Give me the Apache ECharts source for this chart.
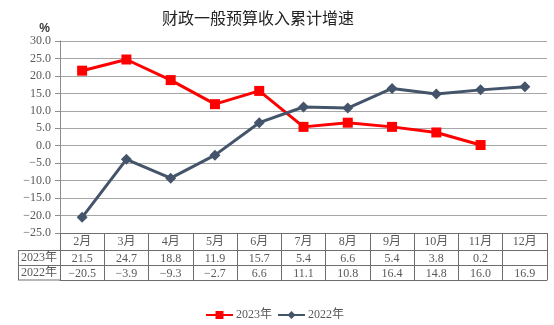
<!DOCTYPE html>
<html><head><meta charset="utf-8">
<script src="https://cdn.jsdelivr.net/npm/echarts@6/dist/echarts.min.js"></script>
<style>html,body{margin:0;padding:0;background:#fff}#c{width:554px;height:325px}</style>
</head><body><div id="c"></div>
<script>
var months = ['2月','3月','4月','5月','6月','7月','8月','9月','10月','11月','12月'];
var s2023 = [21.5, 24.7, 18.8, 11.9, 15.7, 5.4, 6.6, 5.4, 3.8, 0.2, null];
var s2022 = [-20.5, -3.9, -9.3, -2.7, 6.6, 11.1, 10.8, 16.4, 14.8, 16.0, 16.9];
var seriesNames = ['2023年', '2022年'];
var yTicks = {min: -25, max: 30, interval: 5};

function fmt(v){ if(v===null||v===undefined) return ''; var s=v.toFixed(1); return s.replace('-', '\u2212'); }

var serif = '"Liberation Serif","Noto Sans CJK SC",serif';
var txtColor = '#595959';
var border = '#6e6e6e';
var G = {left: 60, right: 7, top: 41, bottom: 92};
var rowH = [17.5, 15, 14.5];

var chart = echarts.init(document.getElementById('c'), null, {renderer:'canvas'});
var tableTop = 325 - G.bottom;
var tableH = rowH[0]+rowH[1]+rowH[2];

var option = {
  animation: false,
  title: {text: '财政一般预算收入累计增速', left: 157, top: 5,
    textStyle: {fontFamily: '"Noto Sans CJK SC",sans-serif', fontSize: 16, fontWeight: 'normal', color: '#222'}},
  grid: G,
  legend: {
    data: seriesNames, top: 304, left: 200, itemWidth: 27, itemHeight: 10, itemGap: 5,
    textStyle: {fontFamily: serif, fontSize: 12, color: txtColor, padding: [0, 0, 0, -2]}
  },
  xAxis: [
    {type: 'category', data: months, position: 'bottom', boundaryGap: true,
      axisLine: {show: true, onZero: false, lineStyle: {color: border, width: 1}},
      axisTick: {show: true, interval: 0, length: tableH, lineStyle: {color: border}},
      axisLabel: {interval: 0, margin: 3, fontFamily: serif, fontSize: 12, color: txtColor}},
    {type: 'category', data: s2023.map(fmt), position: 'bottom', offset: rowH[0],
      axisLine: {show: true, onZero: false, lineStyle: {color: border}}, axisTick: {show: false},
      axisLabel: {interval: 0, margin: 2, fontFamily: serif, fontSize: 12, color: txtColor}},
    {type: 'category', data: s2022.map(fmt), position: 'bottom', offset: rowH[0]+rowH[1],
      axisLine: {show: true, onZero: false, lineStyle: {color: border}}, axisTick: {show: false},
      axisLabel: {interval: 0, margin: 2, fontFamily: serif, fontSize: 12, color: txtColor}},
    {type: 'category', data: months, position: 'bottom', offset: tableH,
      axisLine: {show: true, onZero: false, lineStyle: {color: border}}, axisTick: {show: false}, axisLabel: {show: false}}
  ],
  yAxis: {type: 'value', min: yTicks.min, max: yTicks.max, interval: yTicks.interval,
    name: '%', nameLocation: 'end', nameGap: 2,
    nameTextStyle: {fontFamily: 'sans-serif', fontWeight: 'bold', fontSize: 12, color: '#333', align: 'right', padding: [0, 10, 0, 0]},
    axisLine: {show: true, onZero: false, lineStyle: {color: '#8c8c8c'}},
    axisTick: {show: true, length: 5, lineStyle: {color: '#8c8c8c'}},
    axisLabel: {margin: 9, fontFamily: serif, fontSize: 12, color: txtColor, formatter: function(v){return fmt(v);}},
    splitLine: {show: true, lineStyle: {color: '#a6a6a6', width: 1}}
  },
  series: [
    {name: seriesNames[0], type: 'line', data: s2023, symbol: 'rect', symbolSize: 10,
      lineStyle: {color: '#ff0000', width: 3}, itemStyle: {color: '#ff0000'}},
    {name: seriesNames[1], type: 'line', data: s2022, symbol: 'diamond', symbolSize: 11,
      lineStyle: {color: '#44546a', width: 3}, itemStyle: {color: '#44546a'}}
  ]
};
chart.setOption(option);

// label column of the table
var lx = 18, rx = G.left;
var y1 = tableTop + rowH[0], y2 = y1 + rowH[1], y3 = y2 + rowH[2];
var ls = {stroke: border, lineWidth: 1};
chart.setOption({graphic: [
  {type: 'line', shape: {x1: lx, y1: y1, x2: rx, y2: y1}, style: ls, silent: true},
  {type: 'line', shape: {x1: lx, y1: y2, x2: rx, y2: y2}, style: ls, silent: true},
  {type: 'line', shape: {x1: lx, y1: y3, x2: rx, y2: y3}, style: ls, silent: true},
  {type: 'line', shape: {x1: lx+0.5, y1: y1, x2: lx+0.5, y2: y3}, style: ls, silent: true},
  {type: 'text', x: (lx+rx)/2, y: (y1+y2)/2, style: {text: seriesNames[0], textAlign: 'center', textVerticalAlign: 'middle', font: '12px ' + serif, fill: txtColor}},
  {type: 'text', x: (lx+rx)/2, y: (y2+y3)/2, style: {text: seriesNames[1], textAlign: 'center', textVerticalAlign: 'middle', font: '12px ' + serif, fill: txtColor}}
]});
</script></body></html>
